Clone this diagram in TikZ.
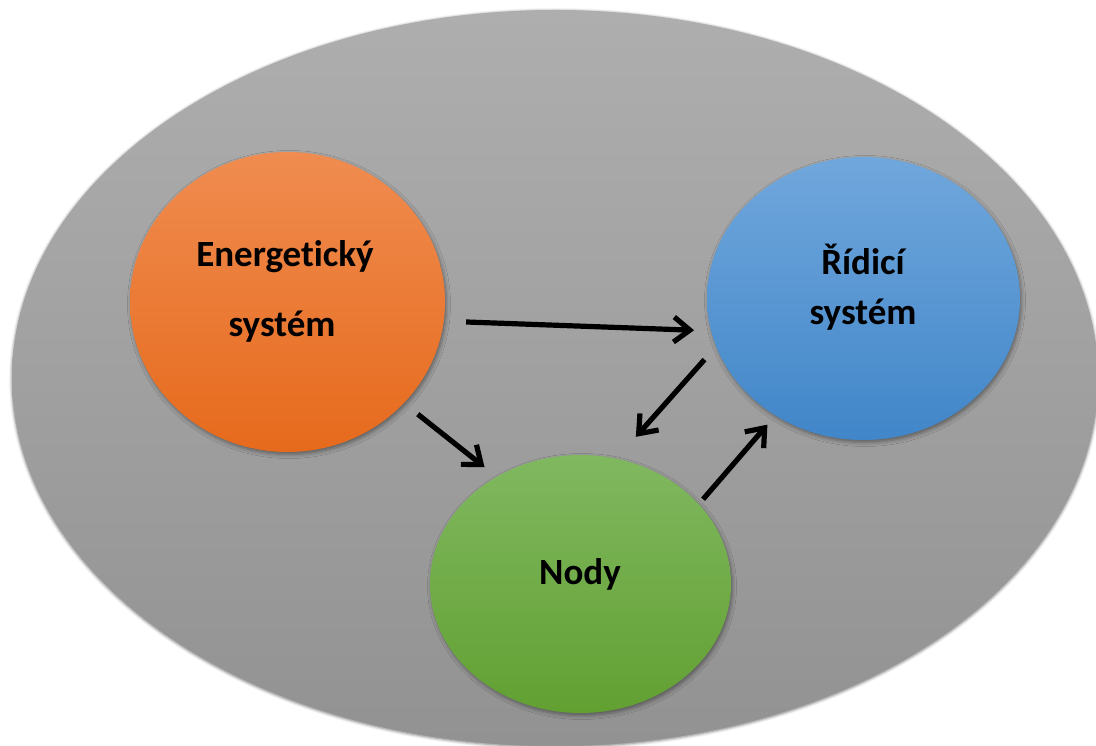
\documentclass[tikz,border=0pt]{standalone}
\usepackage{fontspec}
\setmainfont{Carlito}[Ligatures={NoCommon}]
\usetikzlibrary{shapes.geometric,arrows.meta,shadows.blur}
\definecolor{worldTop}{HTML}{AEAEAE}
\definecolor{worldBot}{HTML}{929292}
\definecolor{engTop}{HTML}{F08C50}
\definecolor{engBot}{HTML}{E66A1C}
\definecolor{ctlTop}{HTML}{70A7DC}
\definecolor{ctlBot}{HTML}{4186C9}
\definecolor{nodTop}{HTML}{80B860}
\definecolor{nodBot}{HTML}{62A032}
\begin{document}
\begin{tikzpicture}[x=1pt,y=-1pt,
  blob/.style={ellipse, draw=none, outer sep=0pt, inner sep=0pt,
    blur shadow={shadow xshift=1.5pt, shadow yshift=-2.5pt,
      shadow blur radius=4pt, shadow opacity=40}},
  lbl/.style={font=\fontsize{37}{44}\selectfont\bfseries, anchor=base,
    inner sep=0pt, text=black},
  flow/.style={line width=5.2pt, black,
    -{Straight Barb[length=16pt,width=25pt]}}]
\useasboundingbox (0,0) rectangle (1096,746);

% enclosing system
\node[blob, minimum width=1086pt, minimum height=736pt,
  top color=worldTop, bottom color=worldBot,
  blur shadow={shadow xshift=0pt, shadow yshift=-1pt,
    shadow blur radius=3pt, shadow opacity=30}] (world) at (555,378) {};

% the three subsystems
\node[blob, minimum width=315pt, minimum height=300pt,
  top color=engTop, bottom color=engBot] (eng) at (287.5,302) {};
\node[blob, minimum width=313pt, minimum height=283pt,
  top color=ctlTop, bottom color=ctlBot] (ctl) at (863.5,298.5) {};
\node[blob, minimum width=301pt, minimum height=258pt,
  top color=nodTop, bottom color=nodBot] (nod) at (580.5,584) {};

% labels
\node[lbl] (engA) at (285,267) {Energetický};
\node[lbl] (engB) at (282,337) {systém};
\node[lbl] (ctlA) at (863,275) {Řídicí};
\node[lbl] (ctlB) at (863,325) {systém};
\node[lbl] (nodA) at (580,584) {Nody};

% flows between subsystems
\draw[flow, shorten <=22.4pt, shorten >=17.1pt] (eng.-7.3) -- (ctl.192.9);
\draw[flow, shorten <=17.8pt, shorten >=15.6pt] (eng.-41.4) -- (nod.128.8);
\draw[flow, shorten <=17.7pt, shorten >=29.3pt] (ctl.198.6) -- (nod.74.1);
\draw[flow, shorten <=6.6pt, shorten >=12.2pt] (nod.34.7) -- (ctl.233.4);
\end{tikzpicture}
\end{document}
